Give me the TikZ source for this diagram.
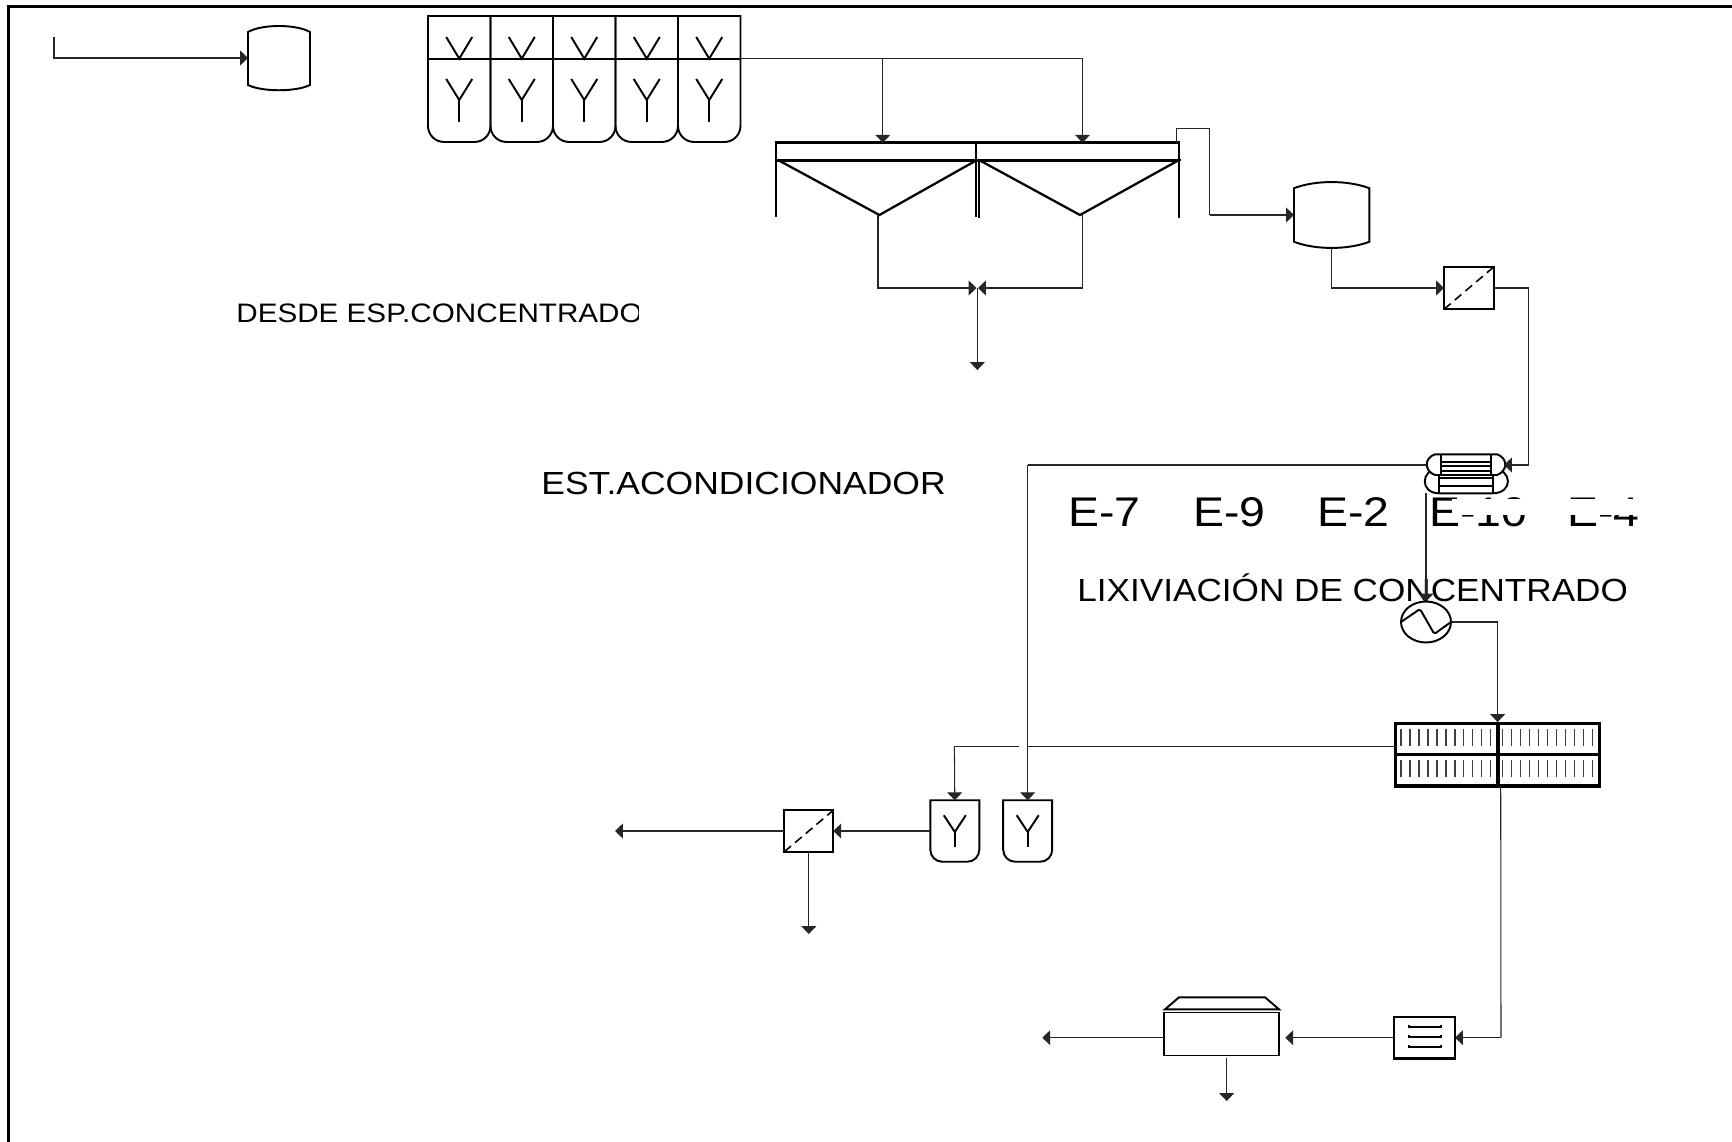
\documentclass[tikz,border=0pt]{standalone}
\usepackage{fontspec}
\setmainfont{Liberation Sans}
\usetikzlibrary{arrows.meta,calc,shapes.geometric}
\begin{document}
\begin{tikzpicture}[x=0.02cm,y=-0.02cm,
  flow/.style={-{Triangle[length=4.5pt,width=8.5pt]},line width=0.6pt,black!85},
  pipe/.style={line width=0.6pt,black!85},
  equip/.style={line width=1.1pt},
  patch/.style={fill=white,draw=none},
  hold/.style={draw=none,inner sep=0pt,outer sep=0pt},
  filterbox/.style={draw,line width=1.1pt,inner sep=0pt,outer sep=0pt,minimum width=0.98cm,minimum height=0.83cm,
    path picture={\draw[dashed,dash pattern=on 5pt off 3pt,line width=0.9pt] (path picture bounding box.south west) -- (path picture bounding box.north east);}},
  bigtext/.style={anchor=base west,transform shape,xscale=1.11,font=\fontsize{18.2pt}{20pt}\selectfont,inner sep=0pt},
  tagtext/.style={anchor=base west,transform shape,xscale=1.12,font=\fontsize{23.6pt}{26pt}\selectfont,inner sep=0pt}]
\useasboundingbox (0,0) rectangle (1732,1142);
% frame
\draw[line width=2pt] (8.5,1142) -- (8.5,6.5) -- (1732,6.5);
% labels
\node[anchor=base west,transform shape,xscale=1.11,font=\fontsize{15.2pt}{17pt}\selectfont,inner sep=0pt] (desde) at (236,322.5) {DESDE ESP.CONCENTRADO};
\node[bigtext] (est) at (541,494) {EST.ACONDICIONADOR};
\node[bigtext,xscale=0.99] (lix) at (1077,601) {LIXIVIACIÓN DE CONCENTRADO};
\foreach \n/\xx/\txt in {e7/1068/E-7,e9/1193/E-9,e2/1317/E-2,e10/1429/E-10,e4/1567/E-4}{
  \node[tagtext] (\n) at (\xx,526) {\txt};
}
\fill[patch] (639,295) rectangle (660,330);
\fill[patch] (1626,570) rectangle (1650,610);
\fill[patch] (1452,499) rectangle (1535,515);
\fill[patch] (1556,499) rectangle (1645,515);
% feed vessel
\node[hold,minimum width=1.24cm,minimum height=1.28cm] (D1) at (279,58) {};
\draw[equip] ($(D1.north west)+(0,6)$) .. controls (262,24) and (296,24) .. ($(D1.north east)+(0,6)$) -- ($(D1.south east)+(0,-5)$) .. controls (296,92) and (262,92) .. ($(D1.south west)+(0,-5)$) -- cycle;
\coordinate (in) at (54,37);
\draw[flow] (in) |- (D1.west);
% conditioning cells
\foreach \i/\xx in {1/428,2/490.5,3/553,4/615.5,5/678}{
  \node[hold,minimum width=1.25cm,minimum height=2.52cm,anchor=north west] (C\i) at (\xx,16) {};
  \draw[equip] (C\i.north west) -- (C\i.north east) {[rounded corners=0.32cm] -- (C\i.south east) -- (C\i.south west)} -- cycle;
  \draw[equip] ($(C\i.north)+(-13,21)$) -- ($(C\i.north)+(0,42.7)$) -- ($(C\i.north)+(13,21)$);
  \draw[equip] ($(C\i.north)+(-13,63)$) -- ($(C\i.north)+(0,84)$) -- ($(C\i.north)+(13,63)$);
  \draw[equip] ($(C\i.north)+(0,84)$) -- ($(C\i.north)+(0,106)$);
}
\draw[equip] (C1.north west |- 0,58.7) -- (C5.north east |- 0,58.7);
% settlers
\node[hold,draw,line width=1.5pt,minimum width=4cm,minimum height=0.35cm,anchor=north west] (S1) at (776,142.7) {};
\node[hold,draw,line width=1.5pt,minimum width=4.06cm,minimum height=0.35cm,anchor=north west] (S2) at (976,142.7) {};
\coordinate (S1v) at (879.4,215);
\coordinate (S2v) at (1080,215);
\draw[equip] (S1.south west) -- (776,216.7);
\draw[equip] (976,160) -- (976,216.7);
\draw[equip] (979,160) -- (979,218);
\draw[equip] (S2.south east) -- (1179,218);
\draw[line width=1.5pt] (776,160) -- (1181,160);
\draw[line width=1.3pt] (778,160) -- (S1v) -- (977,160);
\draw[line width=1.3pt] (979,160) -- (S2v) -- (1179,160);
\coordinate (out1) at (977.3,370);
\coordinate (mix) at (977.3,288);
\coordinate (fa) at (882.8,142.7);
\coordinate (fb) at (1082.5,142.7);
\draw[flow] (C5.north east |- 0,58.7) -| (fb);
\draw[flow] (fa |- 0,58.7) -- (fa);
\draw[flow] (878,215) |- (976.5,288);
\draw[flow] (1082.5,215) |- (978,288);
\draw[flow] (mix) -- (out1);
% second vessel and filter
\node[hold,minimum width=1.51cm,minimum height=1.27cm] (D2) at (1331.7,215) {};
\draw[equip] ($(D2.north west)+(0,5)$) .. controls (1315,180) and (1348,180) .. ($(D2.north east)+(0,5)$) -- ($(D2.south east)+(0,-5)$) .. controls (1348,250) and (1315,250) .. ($(D2.south west)+(0,-5)$) -- cycle;
\node[filterbox,minimum width=1cm,minimum height=0.85cm] (F1) at (1469,288) {};
\draw[pipe] (1176.6,142.7) |- (1209.5,128.3) -- (1209.5,215);
\draw[flow] (1209.5,215) -- (D2.west);
\draw[flow] (D2.south) |- (F1.west);
% exchangers
\node[hold,minimum width=1.54cm,minimum height=0.42cm] (X1) at (1465.5,464.6) {};
\node[hold,minimum width=1.64cm,minimum height=0.5cm] (X2) at (1466.7,481) {};
\draw[equip,fill=white] (1439,468) .. controls (1420,470) and (1420,493.3) .. (1439,493.3) -- (1492.7,493.3) .. controls (1513,493.3) and (1513,470) .. (1492.7,468) -- cycle;
\draw[equip] (1439,468) -- (1439,493.3) (1492.7,468) -- (1492.7,493.3);
\foreach \yy in {477.7,485.7}{\draw[equip] (1439,\yy) -- (1492.7,\yy);}
\draw[equip,fill=white] (1435,454.3) .. controls (1424,458) and (1424,471) .. (1435,475) -- (1497,475) .. controls (1508,471) and (1508,458) .. (1497,454.3) -- cycle;
\draw[equip] (1441,454.3) -- (1441,475) (1490.7,454.3) -- (1490.7,475);
\foreach \yy in {461.7,466,470.7}{\draw[equip] (1441,\yy) -- (1490.7,\yy);}
\coordinate (r1) at (1528.6,288);
\draw[pipe] (F1.east) -- (r1);
\draw[flow] (r1) |- (1504,465);
% heater
\node[hold,draw,line width=1.1pt,ellipse,minimum width=1cm,minimum height=0.82cm] (H1) at (1426,622) {};
\draw[equip,rounded corners=1pt] (H1.west) -- (1420,609) -- (1434.3,634) -- (H1.east);
\draw[flow] (1426,493) -- (H1.north);
% thickener block
\node[hold,draw,line width=2pt,minimum width=4.08cm,minimum height=1.25cm,anchor=north west] (T1) at (1395.7,723.3) {};
\draw[line width=2pt] (T1.west) -- (T1.east) (1498,723.3) -- (1498,786);
\foreach \yy in {729,760}{
  \foreach \xx in {0,...,10}{
    \draw[line width=0.9pt,black!75] ({1401+\xx*8.95},\yy) -- ({1401+\xx*8.95},\yy+17);
    \draw[line width=0.9pt,black!75] ({1502.5+\xx*9},\yy) -- ({1502.5+\xx*9},\yy+17);
  }
}
\coordinate (t1) at (1497.6,622);
\draw[pipe] (H1.east) -- (t1);
\draw[flow] (t1) -- (1497.6,722);
% small vessels
\foreach \n/\cc in {Y1/954.8,Y2/1027.7}{
  \node[hold,minimum width=0.98cm,minimum height=1.23cm] (\n) at (\cc,831) {};
  \draw[equip] (\n.north west) -- (\n.north east) {[rounded corners=0.24cm] -- (\n.south east) -- (\n.south west)} -- cycle;
  \draw[equip] ($(\n.north)+(-11,15)$) -- ($(\n.north)+(0,31.7)$) -- ($(\n.north)+(11,15)$);
  \draw[equip] ($(\n.north)+(0,31.7)$) -- ($(\n.north)+(0,46.7)$);
}
\node[filterbox] (F2) at (808.8,831) {};
\coordinate (t2) at (954.4,746.7);
\draw[pipe] (T1.west |- 0,746.7) -- (t2);
\draw[flow] (t2) -- (Y1.north);
\draw[white,line width=1.2pt] (1019,746.7) -- (1027,746.7);
\coordinate (x1) at (1027.7,465);
\draw[pipe] (X1.west |- 0,465) -- (x1);
\draw[flow] (x1) -- (Y2.north);
\coordinate (o2) at (615,831);
\coordinate (o3) at (808.8,934);
\draw[flow] (Y1.west) -- (F2.east);
\draw[flow] (F2.west) -- (o2);
\draw[flow] (F2.south) -- (o3);
% final filter and dryer
\node[hold,draw,line width=1.2pt,minimum width=1.23cm,minimum height=0.83cm] (B1) at (1424.3,1037.7) {};
\foreach \yy in {1027.3,1037.3,1047.3}{
  \draw[equip] (1409,\yy-2) -- (1409,\yy) -- (1440.7,\yy) -- (1440.7,\yy-2);
}
\node[hold,draw,line width=0.9pt,minimum width=2.31cm,minimum height=0.86cm,anchor=north west] (P1) at (1163.7,1012.3) {};
\draw[equip] (1165,1009.3) -- (1179,997.3) -- (1265,997.3) -- (1279,1009.3) -- cycle;
\coordinate (t3) at (1501,1037.7);
\coordinate (o4) at (1042.3,1037.7);
\coordinate (o5) at (1226.7,1101);
\draw[pipe] (1500.7,786) -- (t3);
\draw[flow] (t3) -- (B1.east);
\draw[flow] (B1.west) -- (1285.3,1037.7);
\draw[flow] (P1.west |- o4) -- (o4);
\draw[flow] (1226.7,1058) -- (o5);
\end{tikzpicture}
\end{document}
